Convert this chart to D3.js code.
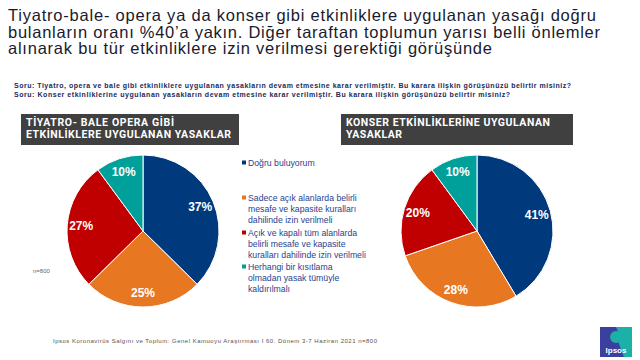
<!DOCTYPE html>
<html>
<head>
<meta charset="utf-8">
<script src="https://cdn.jsdelivr.net/npm/d3@7"></script>
<style>
  body { margin: 0; background: #fff; }
  svg { display: block; font-family: "Liberation Sans", Arial, sans-serif; }
</style>
</head>
<body>
<svg id="chart" width="640" height="360"></svg>
<script>
const titleLines = [
  'Tiyatro-bale- opera ya da konser gibi etkinliklere uygulanan  yasağı doğru',
  'bulanların  oranı %40’a yakın.  Diğer taraftan toplumun yarısı belli önlemler',
  'alınarak bu tür etkinliklere izin verilmesi gerektiği görüşünde'
];
const titleWidths = [588, 592, 484];
const questionLines = [
  'Soru: Tiyatro,  opera ve bale  gibi etkinliklere  uygulanan  yasakların   devam etmesine  karar  verilmiştir. Bu karara  ilişkin  görüşünüzü belirtir misiniz?',
  'Soru: Konser  etkinliklerine  uygulanan  yasakların   devam etmesine  karar  verilmiştir. Bu karara  ilişkin  görüşünüzü belirtir misiniz?'
];
const questionWidths = [557, 496];
const categories = ['dogru', 'acik', 'tum', 'kaldirilmali'];
const legendLabels = [
  ['Doğru buluyorum'],
  ['Sadece açık alanlarda belirli', 'mesafe ve kapasite kuralları', 'dahilinde izin verilmeli'],
  ['Açık ve kapalı tüm alanlarda', 'belirli mesafe ve kapasite', 'kuralları dahilinde izin verilmeli'],
  ['Herhangi bir kısıtlama', 'olmadan yasak tümüyle', 'kaldırılmalı']
];
const colors = ['#003A7D', '#E87722', '#C00000', '#00A09A'];
const tiyatroValues = [37, 25, 27, 10];
const konserValues = [41, 28, 20, 10];
const panelTitles = [
  ['TİYATRO- BALE  OPERA  GİBİ', 'ETKİNLİKLERE  UYGULANAN  YASAKLAR'],
  ['KONSER  ETKİNLİKLERİNE  UYGULANAN', 'YASAKLAR']
];
const panelTitleWidths = [[148, 205], [204, 56]];
const footerText = 'Ipsos Koronavirüs Salgını ve Toplum: Genel Kamuoyu Araştırması I  60. Dönem 3-7 Haziran  2021   n=800';

const svg = d3.select('#chart');

// main title
svg.append('g')
  .selectAll('text')
  .data(titleLines)
  .join('text')
  .attr('x', 8)
  .attr('y', (d, i) => 21 + i * 16.5)
  .attr('textLength', (d, i) => titleWidths[i])
  .attr('lengthAdjust', 'spacing')
  .attr('fill', '#1a1a2e')
  .style('font-size', '16.5px')
  .text((d) => d);

// question text
svg.append('g')
  .selectAll('text')
  .data(questionLines)
  .join('text')
  .attr('x', 14)
  .attr('y', (d, i) => 88 + i * 9)
  .attr('textLength', (d, i) => questionWidths[i])
  .attr('lengthAdjust', 'spacing')
  .attr('fill', '#1b2a5a')
  .style('font-size', '7px')
  .style('font-weight', 'bold')
  .text((d) => d);

// panel header boxes
const headers = [{ x: 21, w: 218 }, { x: 341, w: 232 }];
headers.forEach((h, k) => {
  const g = svg.append('g').attr('transform', `translate(${h.x},114)`);
  g.append('rect').attr('width', h.w).attr('height', 31).attr('fill', '#404040');
  g.selectAll('text')
    .data(panelTitles[k])
    .join('text')
    .attr('x', 5)
    .attr('y', (d, i) => 12 + i * 12)
    .attr('textLength', (d, i) => panelTitleWidths[k][i])
    .attr('lengthAdjust', 'spacing')
    .attr('fill', '#fff')
    .style('font-size', '10.5px')
    .style('font-weight', 'bold')
    .style('font-family', 'Roboto, sans-serif')
    .text((d) => d);
});

const color = d3.scaleOrdinal().domain(categories).range(colors);
const radius = 76;
const pie = d3.pie().sort(null).value((d) => d.value);
const arc = d3.arc().innerRadius(0).outerRadius(radius);
const labelArc = d3.arc().innerRadius(62).outerRadius(62);

function drawPie(cx, cy, values) {
  const data = categories.map((c, i) => ({ key: c, value: values[i] }));
  const g = svg.append('g').attr('transform', `translate(${cx},${cy})`);
  const arcs = pie(data);
  g.selectAll('path')
    .data(arcs)
    .join('path')
    .attr('d', arc)
    .attr('fill', (d) => color(d.data.key))
    .attr('stroke', '#fff')
    .attr('stroke-width', 1);
  g.selectAll('text')
    .data(arcs)
    .join('text')
    .attr('transform', (d) => `translate(${labelArc.centroid(d)})`)
    .attr('text-anchor', 'middle')
    .attr('dy', '0.36em')
    .attr('fill', '#fff')
    .style('font-size', '12px')
    .style('font-weight', 'bold')
    .text((d) => `${d.data.value}%`);
}

drawPie(143, 231, tiyatroValues);
drawPie(477, 231, konserValues);

// legend
const legendY = [163, 198, 233, 267];
const legend = svg.append('g').attr('transform', 'translate(242,0)');
categories.forEach((c, i) => {
  legend.append('rect')
    .attr('x', 0)
    .attr('y', legendY[i] - 2.5)
    .attr('width', 4)
    .attr('height', 4)
    .attr('fill', color(c));
  legend.append('g')
    .selectAll('text')
    .data(legendLabels[i])
    .join('text')
    .attr('x', 6)
    .attr('y', (d, j) => legendY[i] + 3 + j * 11)
    .attr('fill', '#2a3f8f')
    .style('font-size', '8.7px')
    .text((d) => d);
});

// sample size
svg.append('text')
  .attr('x', 33)
  .attr('y', 273)
  .attr('fill', '#666')
  .style('font-size', '6px')
  .text('n=800');

// footer
svg.append('text')
  .attr('x', 53)
  .attr('y', 343)
  .attr('textLength', 324)
  .attr('lengthAdjust', 'spacing')
  .attr('fill', '#555')
  .style('font-size', '6px')
  .text(footerText);

// Ipsos logo
const logo = svg.append('g').attr('transform', 'translate(600,327)');
logo.append('rect').attr('width', 32).attr('height', 30).attr('fill', '#3b3f9e');
logo.append('path')
  .attr('d', 'M16,0 L32,0 L32,30 L24,30 Q20,20 18,14 Q20,8 16,0 Z')
  .attr('fill', '#1bb0a8');
logo.append('circle').attr('cx', 16).attr('cy', 10).attr('r', 6).attr('fill', '#1bb0a8');
logo.append('text')
  .attr('x', 16)
  .attr('y', 26)
  .attr('text-anchor', 'middle')
  .attr('fill', '#fff')
  .style('font-size', '8px')
  .style('font-weight', 'bold')
  .text('Ipsos');
</script>
</body>
</html>
